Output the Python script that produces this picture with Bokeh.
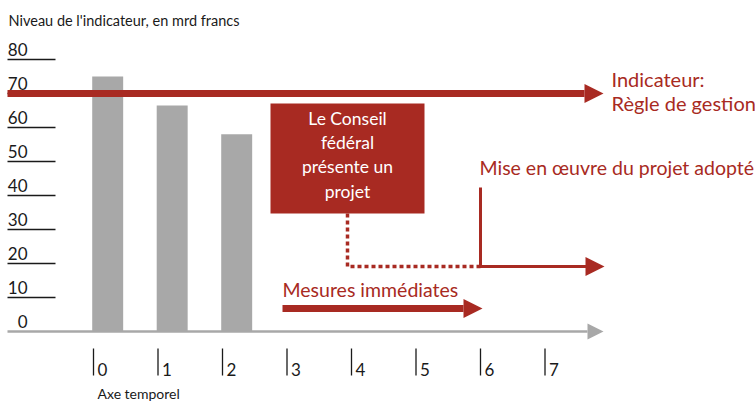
from bokeh.plotting import figure
from bokeh.models import Arrow, NormalHead, Range1d
from bokeh.core.properties import value
from bokeh.embed import file_html
from bokeh.resources import INLINE

# ---- data ----
periods = [0, 1, 2]
bar_values = [75, 66.5, 58]
y_ticks = [0, 10, 20, 30, 40, 50, 60, 70, 80]
y_tick_labels = ["0", "10", "20", "30", "40", "50", "60", "70", "80"]
t_ticks = [0, 1, 2, 3, 4, 5, 6, 7]
t_tick_labels = ["0", "1", "2", "3", "4", "5", "6", "7"]
indicator_level = 70
title = "Niveau de l'indicateur, en mrd francs"
x_title = "Axe temporel"
box_lines = ["Le Conseil", "fédéral", "présente un", "projet"]

RED = "#a82a22"
GRAY = "#a8a8a8"
DARK = "#1a1a1a"
FONT = value("Lato")

# pixel mapping: x_px = 93 + 64.5*t ; y_px = 331 - 3.4*v
W, H = 755, 403
def tx(px):
    return (px - 93) / 64.5
def vy(py):
    return (331 - py) / 3.4

p = figure(width=W, height=H, output_backend="svg", toolbar_location=None,
           x_range=Range1d(tx(0), tx(W)), y_range=Range1d(vy(H), vy(0)),
           min_border=0, outline_line_color=None)
p.axis.visible = False
p.grid.visible = False
p.background_fill_color = "white"
p.border_fill_color = "white"

# bars
bar_w = 0.48
p.vbar(x=[t + 0.22 for t in periods], top=bar_values, bottom=0, width=bar_w,
       fill_color=GRAY, line_color=None)

# y labels and underlines
left = tx(7)
right = tx(55)
ul = [v for v in y_ticks if v > 0]
p.segment(x0=[left] * len(ul), y0=ul, x1=[right] * len(ul), y1=ul,
          line_color=DARK, line_width=1.3)
p.text(x=[tx(27)] * len(y_ticks), y=y_ticks, text=y_tick_labels,
       text_align="right", text_baseline="middle", y_offset=-10,
       text_font=FONT, text_font_size="17px", text_color=DARK)

# time axis (gray arrow)
p.add_layout(Arrow(x_start=tx(7), y_start=0, x_end=tx(603), y_end=0,
                   line_color=GRAY, line_width=2.5,
                   end=NormalHead(size=16, fill_color=GRAY, line_color=GRAY, line_width=0)))

# time ticks
p.segment(x0=t_ticks, y0=[vy(348)] * len(t_ticks), x1=t_ticks, y1=[vy(375)] * len(t_ticks),
          line_color=DARK, line_width=1.3)
p.text(x=t_ticks, y=[vy(369)] * len(t_ticks), text=t_tick_labels, x_offset=4,
       text_align="left", text_baseline="middle",
       text_font=FONT, text_font_size="17px", text_color=DARK)
p.text(x=[tx(97)], y=[vy(393)], text=[x_title], text_align="left",
       text_baseline="middle", text_font=FONT, text_font_size="14px", text_color=DARK)

# title
p.text(x=[tx(8)], y=[vy(20)], text=[title], text_align="left", text_baseline="middle",
       text_font=FONT, text_font_size="14.5px", text_color=DARK)

# indicator arrow
p.add_layout(Arrow(x_start=tx(7), y_start=indicator_level, x_end=tx(603), y_end=indicator_level,
                   line_color=RED, line_width=7,
                   end=NormalHead(size=19, fill_color=RED, line_color=RED, line_width=0)))
p.text(x=[tx(611), tx(611)], y=[vy(78), vy(102)], text=["Indicateur:", "Règle de gestion"],
       text_align="left", text_baseline="middle", text_font=FONT, text_font_size="20px",
       text_color=RED)

# box
p.quad(left=[tx(270)], right=[tx(424)], top=[vy(103)], bottom=[vy(213)],
       fill_color=RED, line_color=None)
p.text(x=[tx(347)] * 4, y=[vy(118), vy(142), vy(166), vy(191)], text=box_lines,
       text_align="center", text_baseline="middle", text_font=FONT, text_font_size="17.5px",
       text_color="white")

# dotted path
p.line(x=[tx(347), tx(347), tx(480)], y=[vy(213), vy(266), vy(266)],
       line_color=RED, line_width=3.5, line_dash="4 3", line_join="miter")

# implementation path
p.line(x=[tx(480), tx(480), tx(590)], y=[vy(187), vy(266), vy(266)],
       line_color=RED, line_width=3, line_join="miter")
p.add_layout(Arrow(x_start=tx(580), y_start=vy(266), x_end=tx(604), y_end=vy(266),
                   line_color=RED, line_width=3,
                   end=NormalHead(size=19, fill_color=RED, line_color=RED, line_width=0)))
p.text(x=[tx(479)], y=[vy(167)], text=["Mise en œuvre du projet adopté"],
       text_align="left", text_baseline="middle", text_font=FONT, text_font_size="19.5px",
       text_color=RED)

# immediate measures
p.add_layout(Arrow(x_start=tx(282), y_start=vy(308), x_end=tx(482), y_end=vy(308),
                   line_color=RED, line_width=7,
                   end=NormalHead(size=19, fill_color=RED, line_color=RED, line_width=0)))
p.text(x=[tx(282)], y=[vy(289)], text=["Mesures immédiates"],
       text_align="left", text_baseline="middle", text_font=FONT, text_font_size="19.5px",
       text_color=RED)

open("out.html", "w").write(file_html(p, INLINE))
